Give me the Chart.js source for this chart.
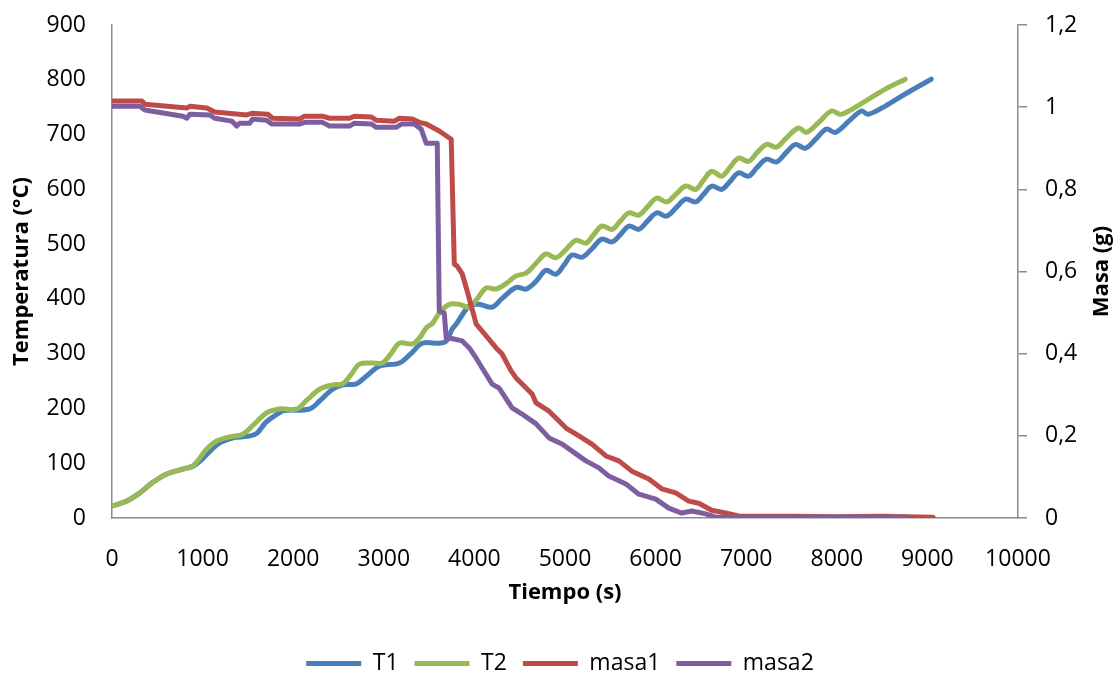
<!DOCTYPE html>
<html>
<head>
<meta charset="utf-8">
<script src="https://cdn.jsdelivr.net/npm/chart.js@4.4.1/dist/chart.umd.min.js"></script>
<style>
  html, body { margin: 0; padding: 0; background: #fff; }
  #wrap { width: 1120px; height: 675px; position: relative; }
</style>
</head>
<body>
<div id="wrap"><canvas id="grafico"></canvas></div>
<script>
// Datos: tiempo (s), temperatura (°C), masa (g)
const t1Tiempo = [0, 150, 300, 450, 600, 800, 900, 1000, 1100, 1200, 1350, 1500, 1600, 1700, 1817, 1900, 2180, 2300, 2434, 2550, 2698, 2800, 2952, 3172, 3300, 3425, 3612, 3690, 3755, 3800, 3943, 4050, 4196, 4300, 4460, 4570, 4680, 4790, 4900, 4990, 5077, 5187, 5300, 5407, 5518, 5610, 5705, 5815, 5910, 6013, 6123, 6230, 6332, 6443, 6530, 6619, 6729, 6820, 6916, 7026, 7120, 7225, 7335, 7440, 7544, 7654, 7770, 7885, 7985, 8130, 8271, 8348, 8535, 8755, 9042];
const t1Temp = [22, 30, 45, 65, 80, 90, 95, 108, 125, 138, 147, 149, 155, 175, 189, 196, 199, 215, 235, 243, 245, 258, 277, 283, 300, 319, 319, 323, 345, 354, 387, 390, 385, 400, 421, 418, 432, 452, 445, 462, 480, 476, 492, 509, 504, 517, 533, 527, 542, 557, 551, 567, 582, 577, 591, 606, 600, 614, 630, 624, 640, 655, 650, 667, 682, 675, 692, 710, 704, 724, 743, 737, 752, 774, 801];

const t2Tiempo = [0, 150, 300, 450, 600, 800, 900, 1046, 1150, 1300, 1443, 1550, 1707, 1850, 2037, 2150, 2290, 2434, 2544, 2640, 2731, 2874, 2985, 3080, 3172, 3315, 3400, 3469, 3540, 3612, 3722, 3833, 3943, 4030, 4130, 4240, 4350, 4460, 4570, 4680, 4790, 4900, 5010, 5121, 5231, 5320, 5407, 5518, 5610, 5705, 5815, 5910, 6013, 6123, 6230, 6332, 6443, 6530, 6619, 6729, 6820, 6916, 7026, 7120, 7225, 7335, 7450, 7577, 7665, 7800, 7941, 8051, 8315, 8535, 8755];
const t2Temp = [22, 30, 45, 65, 80, 90, 96, 126, 140, 148, 153, 168, 192, 199, 199, 215, 235, 243, 245, 262, 281, 283, 283, 300, 319, 318, 330, 347, 356, 374, 390, 390, 385, 400, 420, 418, 428, 442, 447, 465, 482, 475, 490, 507, 502, 518, 533, 527, 542, 557, 553, 568, 584, 577, 592, 606, 600, 617, 633, 624, 640, 657, 651, 667, 682, 677, 695, 712, 704, 722, 743, 737, 761, 783, 801];

const masa1Tiempo = [0, 330, 363, 826, 859, 1046, 1134, 1487, 1542, 1718, 1773, 2070, 2125, 2324, 2401, 2621, 2676, 2863, 2918, 3117, 3172, 3315, 3392, 3469, 3535, 3612, 3744, 3778, 3810, 3866, 3921, 4020, 4086, 4240, 4306, 4405, 4460, 4637, 4681, 4824, 5011, 5154, 5297, 5452, 5595, 5738, 5925, 6068, 6222, 6366, 6476, 6619, 6773, 6916, 7500, 8000, 8500, 9064];
const masa1Valor = [1.015, 1.015, 1.007, 0.998, 1.002, 0.998, 0.988, 0.981, 0.985, 0.983, 0.973, 0.971, 0.978, 0.978, 0.973, 0.973, 0.978, 0.976, 0.968, 0.966, 0.973, 0.971, 0.963, 0.959, 0.951, 0.942, 0.922, 0.618, 0.613, 0.594, 0.552, 0.472, 0.455, 0.414, 0.399, 0.358, 0.341, 0.302, 0.280, 0.260, 0.219, 0.200, 0.180, 0.151, 0.139, 0.114, 0.095, 0.071, 0.061, 0.041, 0.036, 0.019, 0.012, 0.005, 0.004, 0.003, 0.004, 0.002];

const masa2Tiempo = [0, 308, 363, 782, 826, 859, 1079, 1134, 1322, 1377, 1410, 1520, 1553, 1707, 1762, 2070, 2125, 2324, 2401, 2621, 2676, 2863, 2918, 3139, 3194, 3337, 3414, 3469, 3590, 3612, 3667, 3690, 3722, 3866, 3943, 4020, 4086, 4196, 4273, 4416, 4526, 4681, 4824, 4967, 5121, 5231, 5374, 5484, 5672, 5815, 6002, 6145, 6288, 6398, 6553, 6663, 7500, 8000, 8767];
const masa2Valor = [1.002, 1.002, 0.993, 0.978, 0.973, 0.983, 0.981, 0.973, 0.966, 0.954, 0.961, 0.961, 0.971, 0.968, 0.959, 0.959, 0.963, 0.963, 0.954, 0.954, 0.961, 0.959, 0.951, 0.951, 0.959, 0.959, 0.946, 0.912, 0.912, 0.504, 0.499, 0.436, 0.438, 0.431, 0.414, 0.389, 0.365, 0.326, 0.316, 0.268, 0.253, 0.229, 0.195, 0.180, 0.156, 0.139, 0.122, 0.102, 0.083, 0.058, 0.046, 0.024, 0.012, 0.017, 0.010, 0.002, 0.002, 0.002, 0.002];

const series = ['T1', 'T2', 'masa1', 'masa2'];
const colores = ['#4A7EBB', '#98B954', '#BE4B48', '#7D5FA0'];
const ticksTiempo = [0, 1000, 2000, 3000, 4000, 5000, 6000, 7000, 8000, 9000, 10000];

const FUENTE = '"Open Sans", "Noto Sans", sans-serif';

function puntos(xs, ys) {
  return xs.map((x, i) => ({ x: x, y: ys[i] }));
}

function serie(i, xs, ys, eje, tension, orden) {
  return {
    label: series[i],
    data: puntos(xs, ys),
    yAxisID: eje,
    borderColor: colores[i],
    backgroundColor: colores[i],
    borderWidth: 5,
    borderCapStyle: 'round',
    borderJoinStyle: 'round',
    pointRadius: 0,
    fill: false,
    tension: tension,
    order: orden
  };
}

// ancho fijo del eje y sin el relleno extra que Chart.js suma arriba/abajo
function fijarAncho(ancho) {
  return (s) => {
    s.width = ancho;
    s.paddingTop = 0;
    s.paddingBottom = 0;
  };
}

// Título del eje derecho, escrito de abajo hacia arriba como en el original
const tituloDerecho = {
  id: 'tituloDerecho',
  afterDraw(chart) {
    const ctx = chart.ctx;
    const area = chart.chartArea;
    ctx.save();
    ctx.translate(1102, (area.top + area.bottom) / 2);
    ctx.rotate(-Math.PI / 2);
    ctx.font = 'bold 22px ' + FUENTE;
    ctx.fillStyle = '#000';
    ctx.textAlign = 'center';
    ctx.textBaseline = 'middle';
    ctx.fillText('Masa (g)', 0, 0);
    ctx.restore();
  }
};

const ctx = document.getElementById('grafico').getContext('2d');

new Chart(ctx, {
  type: 'line',
  data: {
    datasets: [
      serie(0, t1Tiempo, t1Temp, 'y', 0.35, 4),
      serie(1, t2Tiempo, t2Temp, 'y', 0.35, 3),
      serie(2, masa1Tiempo, masa1Valor, 'y1', 0, 2),
      serie(3, masa2Tiempo, masa2Valor, 'y1', 0, 1)
    ]
  },
  options: {
    responsive: true,
    maintainAspectRatio: false,
    animation: false,
    layout: { padding: { top: 25, left: 0, right: 0, bottom: -10 } },
    plugins: {
      tooltip: { enabled: false },
      legend: {
        position: 'bottom',
        labels: {
          color: '#000',
          font: { family: FUENTE, size: 23 },
          usePointStyle: true,
          pointStyle: 'line',
          pointStyleWidth: 55,
          boxHeight: 23,
          padding: 16,
          sort: (a, b) => a.datasetIndex - b.datasetIndex
        }
      }
    },
    scales: {
      x: {
        type: 'linear',
        min: 0,
        max: 10000,
        afterBuildTicks: (s) => { s.ticks = ticksTiempo.map(v => ({ value: v })); },
        afterFit: (s) => { s.height = 118; },
        grid: { display: false, drawTicks: false },
        border: { display: true, color: '#8C8C8C', width: 1.5 },
        ticks: {
          color: '#000',
          padding: 28,
          font: { family: FUENTE, size: 23 },
          maxRotation: 0,
          callback: (v) => String(v)
        },
        title: {
          display: true,
          text: 'Tiempo (s)',
          color: '#000',
          font: { family: FUENTE, size: 22, weight: 'bold' },
          padding: { top: 0, bottom: 30 }
        }
      },
      y: {
        position: 'left',
        min: 0,
        max: 900,
        ticks: { stepSize: 100, color: '#000', padding: 26, font: { family: FUENTE, size: 23 } },
        afterFit: fijarAncho(112),
        grid: { display: false, drawTicks: false },
        border: { display: true, color: '#8C8C8C', width: 1.5 },
        title: {
          display: true,
          text: 'Temperatura (°C)',
          color: '#000',
          font: { family: FUENTE, size: 22, weight: 'bold' },
          padding: { top: 9, bottom: 0 }
        }
      },
      y1: {
        position: 'right',
        min: 0,
        max: 1.2,
        ticks: {
          stepSize: 0.2,
          color: '#000',
          padding: 18,
          font: { family: FUENTE, size: 23 },
          callback: (v) => String(Number(v.toFixed(1))).replace('.', ',')
        },
        afterFit: fijarAncho(102),
        grid: { display: true, drawOnChartArea: false, drawTicks: true, tickLength: 9, color: '#8C8C8C', lineWidth: 1.5 },
        border: { display: true, color: '#8C8C8C', width: 1.5 }
      }
    }
  },
  plugins: [tituloDerecho]
});
</script>
</body>
</html>
